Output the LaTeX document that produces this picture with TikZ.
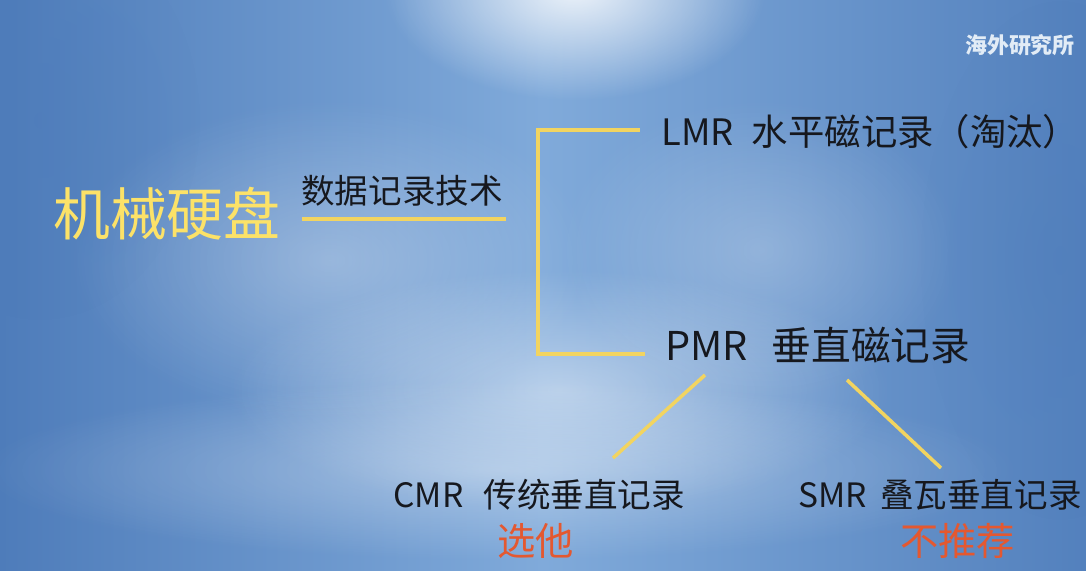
\documentclass[tikz,border=0pt]{standalone}
\usepackage{fontspec}
\setmainfont{Noto Sans CJK SC}
\usepackage{tikz}
\usetikzlibrary{positioning,fadings}
\definecolor{azulescuro}{RGB}{78,124,186}
\definecolor{azulmeio}{RGB}{128,170,218}
\definecolor{azulclaro}{RGB}{168,202,238}
\definecolor{amarelolinha}{RGB}{242,212,96}
\definecolor{amarelotitulo}{RGB}{252,226,104}
\definecolor{laranjanota}{RGB}{228,88,48}
\definecolor{textoescuro}{RGB}{22,24,30}
\definecolor{brancomarca}{RGB}{226,236,246}
\tikzfading[name=brilho,inner color=transparent!0,outer color=transparent!100]
\tikzset{
  titulo/.style={inner sep=0pt,text=amarelotitulo,
    font=\fontsize{32.4pt}{34pt}\selectfont},
  ramo/.style={inner sep=0pt,anchor=west,text=textoescuro,
    font=\fontsize{19.1pt}{21pt}\selectfont},
  ramomedio/.style={ramo,font=\fontsize{20.7pt}{22pt}\selectfont},
  ramogrande/.style={ramo,font=\fontsize{22.6pt}{24pt}\selectfont},
  nota/.style={inner sep=0pt,text=laranjanota,
    font=\fontsize{21.8pt}{23pt}\selectfont},
  marca/.style={inner sep=0pt,text=brancomarca,
    font=\fontsize{12.5pt}{14pt}\selectfont\bfseries},
  linha/.style={draw=amarelolinha,line width=2pt},
  luz/.style={white,path fading=brilho}
}
\newcommand{\vao}{\hspace{.6em}}

\begin{document}
\begin{tikzpicture}[x=0.02cm,y=-0.02cm]
% fundo
\useasboundingbox (0,0) rectangle (1086,571);
\begin{scope}
\clip (0,0) rectangle (1086,571);
\shade[left color=azulescuro,right color=azulescuro!90!azulmeio,middle color=azulmeio]
  (0,0) rectangle (1086,571);
\fill[luz,opacity=.85] (575,-10) ellipse (190 and 110);
\fill[luz,opacity=.45] (560,390) ellipse (330 and 120);
\fill[luz,opacity=.35] (500,470) ellipse (520 and 90);
\fill[luz,opacity=.3] (330,260) ellipse (260 and 160);
\fill[luz,opacity=.25] (760,250) ellipse (200 and 150);
\fill[azulescuro,opacity=.35,path fading=brilho] (40,120) ellipse (160 and 200);
\fill[azulescuro,opacity=.3,path fading=brilho] (1060,260) ellipse (140 and 260);
\end{scope}

% textos
\node[titulo] (disco) at (167,214) {机械硬盘};
\node[ramo] (tecnica) at (301,191) {数据记录技术};
\node[ramomedio] (lmr) at (661,132) {LMR\hspace{.5em}水平磁记录（淘汰）};
\node[ramogrande] (pmr) at (665,345) {PMR\vao 垂直磁记录};
\node[ramo] (cmr) at (393,495) {CMR\vao 传统垂直记录};
\node[ramo] (smr) at (798,495) {SMR\hspace{.4em}叠瓦垂直记录};
\node[nota,below=7pt of cmr,xshift=-2pt] (escolha) {选他};
\node[nota,below=7pt of smr,xshift=10pt] (evitar) {不推荐};
\node[marca] (marca) at (1020,45) {海外研究所};

% ligacoes
\coordinate (sublinhaA) at (302,219);
\coordinate (sublinhaB) at (506,219);
\coordinate (chavetopo) at (538,130);
\coordinate (chavebase) at (538,354);
\coordinate (lmrponta) at (640,130);
\coordinate (pmrponta) at (645,354);
\coordinate (pmresq) at (705,375);
\coordinate (pmrdir) at (847,380);
\coordinate (cmrtopo) at (613,458);
\coordinate (smrtopo) at (941,468);
\draw[linha] (sublinhaA) -- (sublinhaB);
\draw[linha] (lmrponta) -- (chavetopo) -- (chavebase) -- (pmrponta);
\draw[linha] (pmresq) -- (cmrtopo);
\draw[linha] (pmrdir) -- (smrtopo);
\end{tikzpicture}
\end{document}
